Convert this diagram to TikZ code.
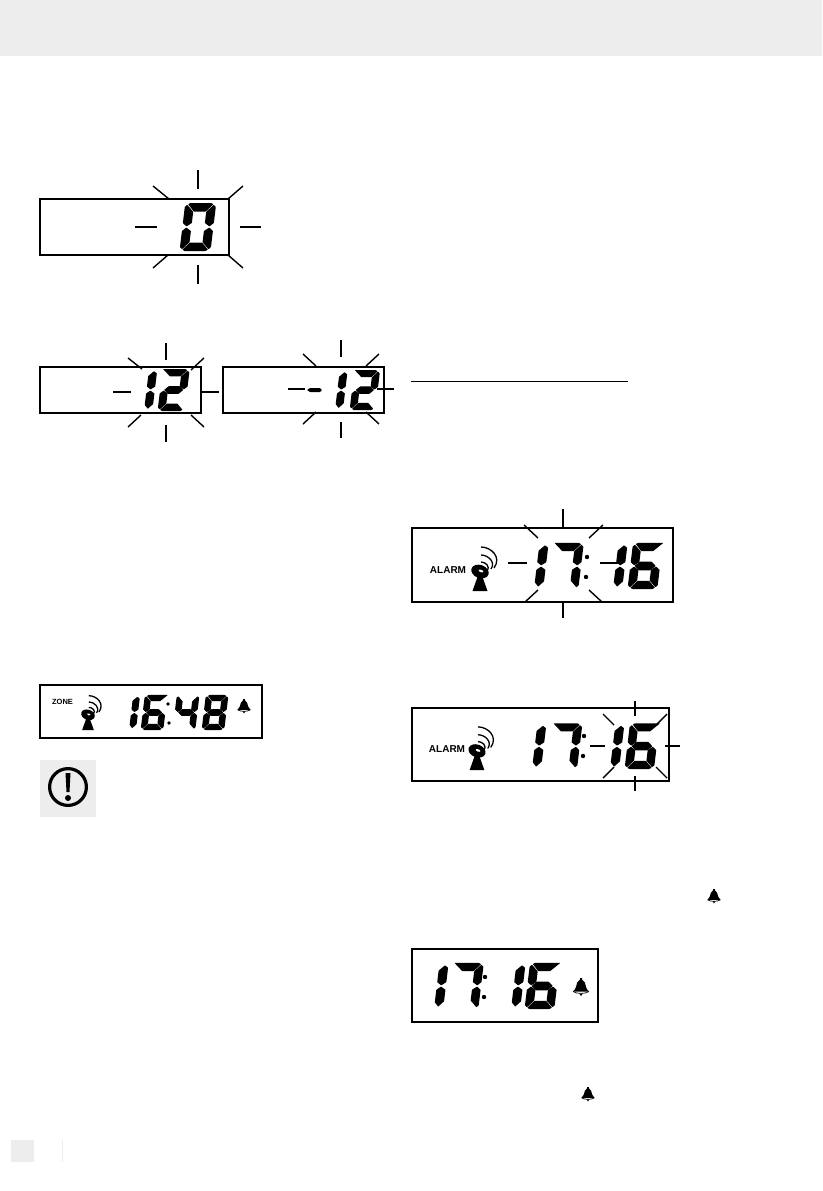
\documentclass[tikz,border=0pt]{standalone}
\usepackage{fontspec}
\setsansfont{Liberation Sans}
\usepackage{tikz}
\usetikzlibrary{calc}
\definecolor{bandgray}{RGB}{237,237,237}
\tikzset{
  lcdbox/.style={draw=black,line width=1.1pt},
  ray/.style={draw=black,line width=1.4pt},
  lcdseg/.style={fill=black,rounded corners=0.4pt},
  lcdtext/.style={font=\sffamily\bfseries\fontsize{#1}{#1}\selectfont,inner sep=0pt}
}
% seven segments, cell 30 x 48, origin bottom left
\newcommand{\segA}{\fill[lcdseg] (2.6,46.8) -- (4.5,48) -- (25.5,48) -- (27.8,46.6) -- (21,39.5) -- (9,39.5) -- cycle;}
\newcommand{\segAl}{\fill[lcdseg] (0,48) -- (25.5,48) -- (27.8,46.6) -- (21,39.5) -- (9,39.5) -- cycle;}
\newcommand{\segAr}{\fill[lcdseg] (2.6,46.8) -- (4.5,48) -- (31,48) -- (21.5,39.5) -- (9,39.5) -- cycle;}
\newcommand{\segB}{\fill[lcdseg] (28.3,46.2) -- (30.5,44) -- (30.5,28) -- (26.5,24.6) -- (21.5,28) -- (21.5,39.2) -- cycle;}
\newcommand{\segC}{\fill[lcdseg] (26.5,23.4) -- (30.5,20) -- (30.5,4) -- (28.3,1.8) -- (21.5,8.8) -- (21.5,20) -- cycle;}
\newcommand{\segD}{\fill[lcdseg] (2.2,1.4) -- (4.5,0) -- (25.5,0) -- (27.8,1.4) -- (21,8.5) -- (9,8.5) -- cycle;}
\newcommand{\segE}{\fill[lcdseg] (3.5,23.4) -- (-0.5,20) -- (-0.5,4) -- (1.7,1.8) -- (8.5,8.8) -- (8.5,20) -- cycle;}
\newcommand{\segF}{\fill[lcdseg] (3.5,24.6) -- (-0.5,28) -- (-0.5,44) -- (1.7,46.2) -- (8.5,39.2) -- (8.5,28) -- cycle;}
\newcommand{\segG}{\fill[lcdseg] (9,19.5) -- (21,19.5) -- (26,24) -- (21,28.5) -- (9,28.5) -- (4,24) -- cycle;}
\newcommand{\segOneUp}{\fill[lcdseg] (6,45.5) -- (9.5,43) -- (9.5,28) -- (4.5,24.6) -- (0,28) -- (0,40) -- cycle;}
\newcommand{\segOneLow}{\fill[lcdseg] (4.5,23.4) -- (9.5,20) -- (9.5,8) -- (4,2.5) -- (0,7) -- (0,20) -- cycle;}
\newcommand{\digitZero}{\segA\segB\segC\segD\segE\segF}
\newcommand{\digitOne}{\segOneUp\segOneLow}
\newcommand{\digitTwo}{\segAl\segB\segG\segE\segD}
\newcommand{\digitFour}{\segF\segG\segB\segC}
\newcommand{\digitSix}{\segAr\segF\segG\segE\segC\segD}
\newcommand{\digitSeven}{\segAl\segB\segC}
\newcommand{\digitEight}{\segA\segB\segC\segD\segE\segF\segG}
\newcommand{\lcddigit}[4]{\begin{scope}[shift={(#1,#2)},scale=#3,x=1pt,y=1pt,xslant=0.12]#4\end{scope}}
% antenna, origin at foot
\newcommand{\lcdmast}[3]{\begin{scope}[shift={(#1,#2)},scale=#3]
  \fill (-7.5,0) -- (7.5,0) -- (2.5,-14) -- (-2.5,-14) -- cycle;
  \fill (0,-19.5) ellipse [x radius=9,y radius=6.5,rotate=-20];
  \fill[white] (1,-20) ellipse [x radius=2.5,y radius=1.2,rotate=-20];
  \draw[line width=1.3pt] (1,-44) .. controls (11,-44) and (22,-34) .. (14,-23);
  \draw[line width=1.3pt] (1,-36) .. controls (8,-36) and (16,-29) .. (11,-22);
  \draw[line width=1.3pt] (1,-29) .. controls (5,-29) and (11,-25) .. (6.7,-20);
\end{scope}}
% bell, origin at top
\newcommand{\lcdbell}[3]{\begin{scope}[shift={(#1,#2)},scale=#3]
  \fill (-1,0) -- (1,0) -- (1,1.5) .. controls (4,3) and (4.5,6) .. (5,9) .. controls (5.5,11) and (6.5,12) .. (8,13.5)
    -- (-8,13.5) .. controls (-6.5,12) and (-5.5,11) .. (-5,9) .. controls (-4.5,6) and (-4,3) .. (-1,1.5) -- cycle;
  \draw[line width=0.7pt] (-8,13.5) .. controls (-5,16) and (5,16) .. (8,13.5);
  \fill (-1.8,15.5) -- (1.8,15.5) -- (0,18) -- cycle;
\end{scope}}

\begin{document}
\begin{tikzpicture}[x=1pt,y=-1pt]
    \useasboundingbox (0,0) rectangle (822,1191);
    % page furniture
    \fill[bandgray] (0,0) rectangle (822,56);
    \fill[bandgray] (11,1140) rectangle (34,1162);
    \draw[bandgray,line width=0.8pt] (62,1140) -- (62,1162);
    \draw[line width=0.8pt] (411,381) -- (628,381);

    % first display: 0
    \draw[lcdbox] (40,199) rectangle (229,255);
    \lcddigit{180}{251}{1}{\digitZero}
    \foreach \xa/\ya/\xb/\yb in {198/170/198/189,198/265/198/284,135/227/157/227,240/227/261/227,
      153/186/169/199,243/186/228/199,153/268/168/255,243/268/228/255} {
      \draw[ray] (\xa,\ya) -- (\xb,\yb);
    }

    % second row: 12 and -12
    \draw[lcdbox] (40,367) rectangle (201,413);
    \lcddigit{144}{411}{0.875}{\digitOne}
    \lcddigit{158}{411}{0.875}{\digitTwo}
    \foreach \xa/\ya/\xb/\yb in {166/343/166/360,166/425/166/442,113/392/131/392,201/392/219/392,
      128/358/142/369,204/358/191/370,128/427/141/415,204/427/191/415} {
      \draw[ray] (\xa,\ya) -- (\xb,\yb);
    }
    \draw[lcdbox] (223,367) rectangle (384,413);
    \fill[lcdseg] (307,390) -- (310,388) -- (320,388) -- (322,390) -- (320,392) -- (310,392) -- cycle;
    \lcddigit{335}{410}{0.83}{\digitOne}
    \lcddigit{350}{410}{0.83}{\digitTwo}
    \foreach \xa/\ya/\xb/\yb in {341/340/341/357,341/422/341/438,288/389/305/389,377/389/394/389,
      303/354/316/366,379/354/366/366,303/424/316/412,379/424/366/412} {
      \draw[ray] (\xa,\ya) -- (\xb,\yb);
    }

    % zone display
    \draw[lcdbox] (40,685) rectangle (262,738);
    \node[lcdtext=7.5] (zonelabel) at (62.5,702) {ZONE};
    \lcdmast{88}{730}{0.78}
    \lcddigit{129}{730}{0.73}{\digitOne}
    \lcddigit{141}{730}{0.73}{\digitSix}
    \fill (168,704) circle (1.8) (169,723) circle (1.8);
    \lcddigit{173}{730}{0.73}{\digitFour}
    \lcddigit{202}{730}{0.73}{\digitEight}
    \lcdbell{244}{699}{0.8}

    % warning sign
    \fill[bandgray] (40,760) rectangle (96,817);
    \draw[line width=3.2pt] (68,787) circle (18.4);
    \fill (65.5,773) -- (70.5,773) -- (69.5,792) -- (66.5,792) -- cycle;
    \fill (68,798) circle (3);

    % alarm hour flashing
    \draw[lcdbox] (412,528) rectangle (673,602);
    \node[lcdtext=10] (alarmlabela) at (448,570) {ALARM};
    \lcdmast{480}{591}{1}
    \lcddigit{534}{589}{0.96}{\digitOne}
    \lcddigit{549}{589}{0.96}{\digitSeven}
    \fill (587,557) circle (2.2) (586,577) circle (2.2);
    \lcddigit{613}{589}{0.96}{\digitOne}
    \lcddigit{628}{589}{0.96}{\digitSix}
    \foreach \xa/\ya/\xb/\yb in {563/509/563/527,563/601/563/618,508/563/527/563,600/563/618/563,
      524/525/538/538,603/525/589/538,525/602/538/590,602/602/589/590} {
      \draw[ray] (\xa,\ya) -- (\xb,\yb);
    }

    % alarm minute flashing
    \draw[lcdbox] (412,708) rectangle (669,781);
    \node[lcdtext=10] (alarmlabelb) at (447,749) {ALARM};
    \lcdmast{477}{770}{0.98}
    \lcddigit{532}{769}{0.95}{\digitOne}
    \lcddigit{548}{769}{0.95}{\digitSeven}
    \fill (584,736) circle (2.2) (583,756) circle (2.2);
    \lcddigit{610}{769}{0.95}{\digitOne}
    \lcddigit{625}{769}{0.95}{\digitSix}
    \foreach \xa/\ya/\xb/\yb in {635/701/635/716,635/776/635/791,590/746/605/746,665/746/680/746,
      603/714/614/725,667/714/656/725,603/778/614/767,667/778/656/767} {
      \draw[ray] (\xa,\ya) -- (\xb,\yb);
    }

    % alarm set
    \draw[lcdbox] (412,949) rectangle (598,1022);
    \lcddigit{434}{1009}{0.96}{\digitOne}
    \lcddigit{449}{1009}{0.96}{\digitSeven}
    \fill (485,977) circle (2.2) (484,997) circle (2.2);
    \lcddigit{511}{1009}{0.96}{\digitOne}
    \lcddigit{525}{1009}{0.96}{\digitSix}
    \lcdbell{581}{978}{1}

    % bells in the running text
    \lcdbell{714}{889}{0.8}
    \lcdbell{588}{1087}{0.8}
\end{tikzpicture}
\end{document}
